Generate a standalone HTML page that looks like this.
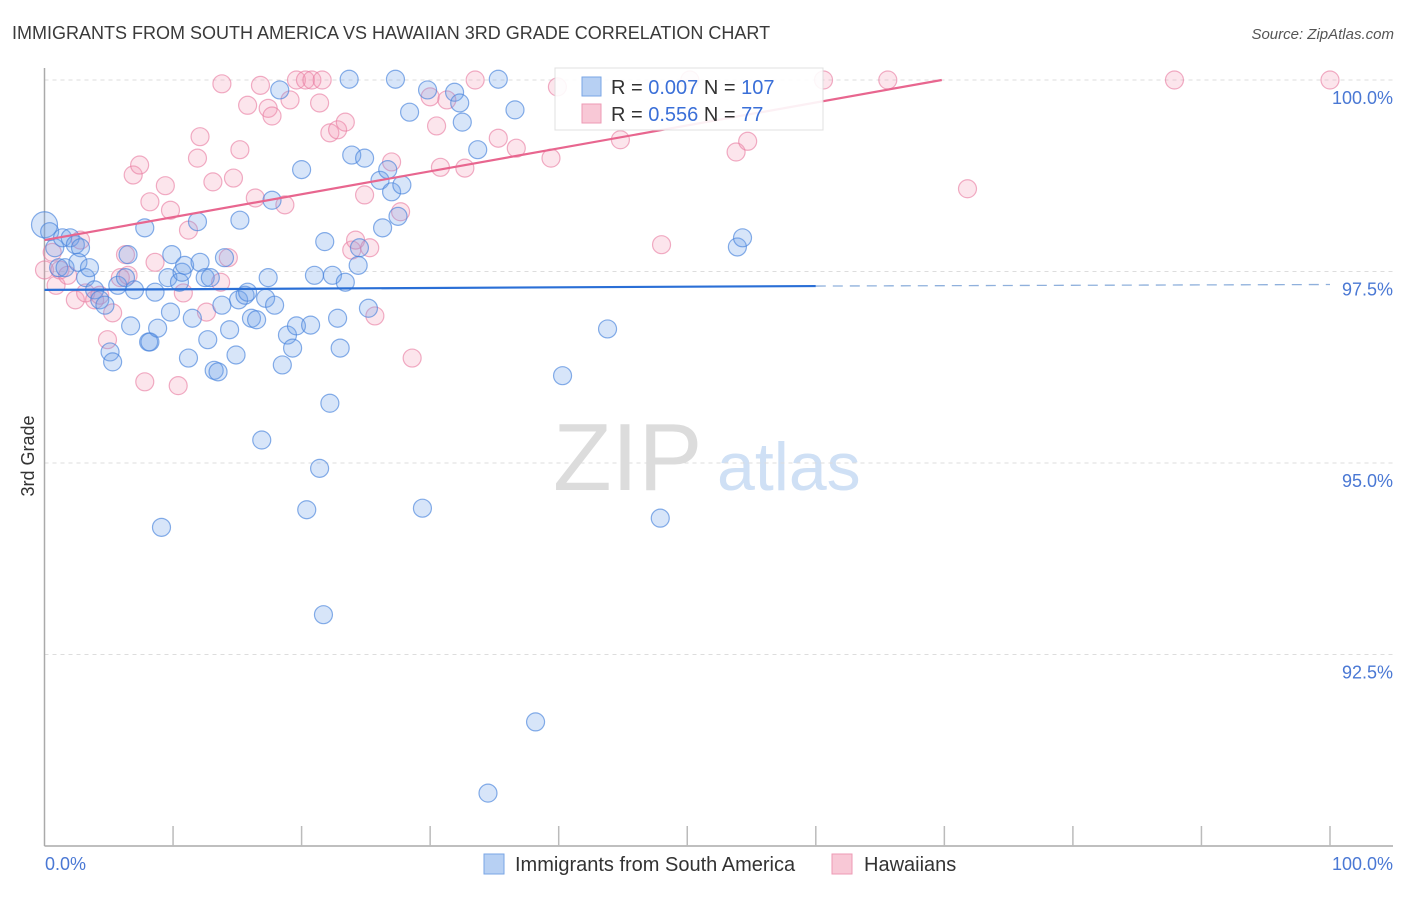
<!DOCTYPE html>
<html><head><meta charset="utf-8"><style>
body{margin:0;background:#fff;font-family:"Liberation Sans",sans-serif;}
svg text{font-family:"Liberation Sans",sans-serif;}
</style></head><body>
<svg id="chart" width="1406" height="892" xmlns="http://www.w3.org/2000/svg">
<text x="12" y="39" font-size="18" fill="#3a3a3a">IMMIGRANTS FROM SOUTH AMERICA VS HAWAIIAN 3RD GRADE CORRELATION CHART</text>
<text x="1394" y="39" font-size="15" fill="#555" font-style="italic" text-anchor="end">Source: ZipAtlas.com</text>
<g>
<text x="553" y="490" font-size="96" fill="#dcdcdc" font-family="Liberation Serif, serif">ZIP</text>
<text x="717" y="490" font-size="68" fill="#cfe0f5">atlas</text>
</g>
<g id="grid"></g>
<g id="axes"></g>
<g id="pts"></g>
<g id="trends"></g>
<text transform="translate(34,456) rotate(-90)" font-size="18" fill="#333" text-anchor="middle">3rd Grade</text>
<g>
<rect x="555" y="68" width="268" height="62" fill="#fff" stroke="#ddd" opacity="0.9"/>
<rect x="582" y="77" width="19" height="19" fill="#b7d0f3" stroke="#7aa6e6"/>
<rect x="582" y="104" width="19" height="19" fill="#f8c8d6" stroke="#ee9ab4"/>
<text x="611" y="94" font-size="20" fill="#333">R = <tspan fill="#3a6fd8">0.007</tspan>   N = <tspan fill="#3a6fd8">107</tspan></text>
<text x="611" y="121" font-size="20" fill="#333">R = <tspan fill="#3a6fd8">0.556</tspan>   N = <tspan fill="#3a6fd8">  77</tspan></text>
</g>
<g>
<rect x="484" y="854" width="20" height="20" fill="#b7d0f3" stroke="#7aa6e6"/>
<text x="515" y="871" font-size="20" fill="#333">Immigrants from South America</text>
<rect x="832" y="854" width="20" height="20" fill="#f8c8d6" stroke="#ee9ab4"/>
<text x="864" y="871" font-size="20" fill="#333">Hawaiians</text>
</g>
</svg>
<script>
const yTicks=[100,97.5,95,92.5];
const yTickLabels=["100.0%","97.5%","95.0%","92.5%"];
const xTickCount=10;
const blueX=[0.0,0.4,0.8,1.4,2.0,2.4,2.8,1.1,1.6,2.6,3.2,3.5,3.9,4.3,4.7,5.7,6.3,7.0,7.8,5.1,5.3,6.5,6.7,8.1,8.2,8.6,8.8,9.1,9.6,9.8,9.9,10.5,10.7,10.9,11.2,11.5,11.9,12.1,12.5,12.9,12.7,13.2,13.5,13.8,14.0,14.4,14.9,15.1,15.2,15.6,15.8,16.1,16.5,16.9,17.2,17.4,17.7,17.9,18.3,18.5,18.9,19.3,19.6,20.0,20.4,20.7,21.0,21.4,21.7,21.8,22.2,22.4,22.8,23.0,23.4,23.7,23.9,24.4,24.5,24.9,25.2,26.1,26.3,26.7,27.0,27.5,27.3,27.8,28.4,29.4,29.8,31.9,32.3,32.5,33.7,34.5,35.3,36.6,38.2,40.3,43.8,47.9,53.9,54.3];
const blueY=[98.11,98.02,97.81,97.94,97.94,97.85,97.81,97.55,97.55,97.62,97.42,97.55,97.26,97.13,97.06,97.32,97.42,97.26,98.07,96.45,96.32,97.72,96.79,96.58,96.58,97.23,96.76,94.16,97.42,96.97,97.72,97.36,97.49,97.58,96.37,96.89,98.15,97.62,97.42,97.42,96.61,96.21,96.19,97.06,97.68,96.74,96.41,97.13,98.17,97.19,97.23,96.89,96.87,95.30,97.15,97.42,98.43,97.06,99.87,96.28,96.67,96.50,96.79,98.83,94.39,96.80,97.45,94.93,93.02,97.89,95.78,97.45,96.89,96.50,97.36,100.01,99.02,97.58,97.81,98.98,97.02,98.69,98.07,98.83,98.54,98.22,100.01,98.63,99.58,94.41,99.87,99.84,99.70,99.45,99.09,90.69,100.01,99.61,91.62,96.14,96.75,94.28,97.82,97.94];
const pinkX=[0.0,0.6,0.9,1.2,1.8,2.4,2.8,3.2,3.9,4.3,4.9,5.3,5.9,6.3,6.5,6.9,7.4,7.8,8.2,8.6,9.4,9.8,10.4,10.8,11.2,11.9,12.1,12.6,13.1,13.7,13.8,14.3,14.7,15.2,15.8,16.4,16.8,17.4,17.7,18.7,19.1,19.6,20.3,20.8,21.4,21.6,22.2,22.8,23.4,23.9,24.2,24.9,25.3,25.7,27.0,27.7,28.6,30.0,30.5,30.8,31.3,32.7,33.5,35.3,36.7,39.4,39.9,44.8,48.0,50.2,53.8,54.7,60.6,65.6,71.8,87.9,100.0];
const pinkY=[97.52,97.75,97.32,97.52,97.45,97.13,97.91,97.22,97.13,97.19,96.61,96.96,97.42,97.72,97.45,98.76,98.89,96.06,98.41,97.62,98.62,98.30,96.01,97.22,98.04,98.98,99.26,96.97,98.67,97.36,99.95,97.68,98.72,99.09,99.67,98.46,99.93,99.63,99.53,98.37,99.74,100.0,100.0,100.0,99.70,100.0,99.31,99.35,99.45,97.78,97.91,98.50,97.81,96.92,98.93,98.28,96.37,99.78,99.40,98.86,99.74,98.85,100.0,99.24,99.11,98.98,99.91,99.22,97.85,100.0,99.06,99.20,100.0,100.0,98.58,100.0,100.0];
const blueTrendX=[0,60,100];
const blueTrendY=[97.26,97.31,97.33];
const pinkTrendX=[0,69.8];
const pinkTrendY=[97.91,100.0];

const NS="http://www.w3.org/2000/svg";
const X0=44.5,X1=1330,Y0=846,Y1=80;
function sx(v){return X0+(v/100)*(X1-X0);}
function sy(v){return Y0-(v-90)/10*(Y0-Y1);}
function mk(tag,attrs,parent){const e=document.createElementNS(NS,tag);for(const k in attrs)e.setAttribute(k,attrs[k]);parent.appendChild(e);return e;}
const grid=document.getElementById('grid'),axes=document.getElementById('axes'),pts=document.getElementById('pts'),tr=document.getElementById('trends');
yTicks.forEach((t,i)=>{
 const l=mk('line',{x1:X0,x2:1393,y1:sy(t),y2:sy(t),stroke:'#ddd','stroke-dasharray':'4,4'},grid);
 
 
 const tx=mk('text',{x:1393,y:sy(t)+24,'font-size':18,fill:'#4a78d4','text-anchor':'end'},grid);
 tx.textContent=yTickLabels[i];
 
 
});
let a=mk('line',{x1:X0,x2:X0,y1:68,y2:Y0,stroke:'#aaa','stroke-width':1.5},axes);


a=mk('line',{x1:X0,x2:1393,y1:Y0,y2:Y0,stroke:'#aaa','stroke-width':1.5},axes);


for(let i=1;i<=xTickCount;i++){
 const t=mk('line',{x1:sx(i*10),x2:sx(i*10),y1:826,y2:Y0,stroke:'#bbb','stroke-width':1.5},axes);
 
 
}
let xl=mk('text',{x:45,y:870,'font-size':18,fill:'#4a78d4'},axes);xl.textContent='0.0%';


xl=mk('text',{x:1393,y:870,'font-size':18,fill:'#4a78d4','text-anchor':'end'},axes);xl.textContent='100.0%';


pinkX.forEach((v,i)=>{
 const c=mk('circle',{cx:sx(v),cy:sy(pinkY[i]),r:9,fill:'rgba(242,150,180,0.25)',stroke:'rgba(232,120,158,0.6)','stroke-width':1.2},pts);
 
 
});
blueX.forEach((v,i)=>{
 const c=mk('circle',{cx:sx(v),cy:sy(blueY[i]),r:i==0?13:9,fill:'rgba(110,160,235,0.28)',stroke:'rgba(70,130,220,0.65)','stroke-width':1.2},pts);
 
 
});
let t=mk('line',{x1:sx(blueTrendX[0]),y1:sy(blueTrendY[0]),x2:sx(blueTrendX[1]),y2:sy(blueTrendY[1]),stroke:'#2a6fd6','stroke-width':2.2},tr);


t=mk('line',{x1:sx(blueTrendX[1]),y1:sy(blueTrendY[1]),x2:sx(blueTrendX[2]),y2:sy(blueTrendY[2]),stroke:'#8fb0dc','stroke-width':1.3,'stroke-dasharray':'10,7'},tr);


t=mk('line',{x1:sx(pinkTrendX[0]),y1:sy(pinkTrendY[0]),x2:sx(pinkTrendX[1]),y2:sy(pinkTrendY[1]),stroke:'#e8668f','stroke-width':2.2},tr);


</script>
</body></html>
